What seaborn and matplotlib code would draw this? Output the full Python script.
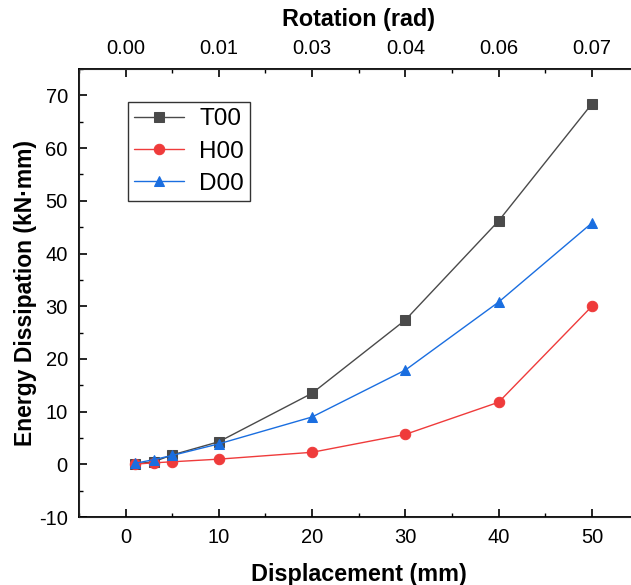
import numpy as np
import pandas as pd
import seaborn as sns
from matplotlib import pyplot as plt
from matplotlib.ticker import MultipleLocator, FixedLocator, FixedFormatter

displacement = [1, 3, 5, 10, 20, 30, 40, 50]
t00 = [0.1, 0.5, 1.8, 4.3, 13.5, 27.4, 46.2, 68.4]
h00 = [0.05, 0.3, 0.5, 1.0, 2.3, 5.7, 11.8, 30.0]
d00 = [0.2, 0.9, 1.7, 3.9, 9.0, 17.9, 30.8, 45.8]

top_ticks = [0, 10, 20, 30, 40, 50]
top_labels = ["0.00", "0.01", "0.03", "0.04", "0.06", "0.07"]

sns.set_style("ticks")
plt.rcParams["font.family"] = ["Liberation Sans", "DejaVu Sans"]
plt.rcParams["xtick.direction"] = "in"
plt.rcParams["ytick.direction"] = "in"
plt.rcParams["axes.unicode_minus"] = False
plt.rcParams["text.color"] = "black"
plt.rcParams["axes.labelcolor"] = "black"

fig = plt.figure(figsize=(6.31, 5.85), dpi=100)
# right edge of the axes runs past the figure, as in the cropped original
ax = fig.add_axes([0.125, 0.116, 0.887, 0.766])

series = [
    ("T00", t00, "#4a4a4a", "s"),
    ("H00", h00, "#ef3b3b", "o"),
    ("D00", d00, "#1a6ee0", "^"),
]
for name, vals, color, marker in series:
    df = pd.DataFrame({"x": displacement, "y": vals})
    sns.lineplot(data=df, x="x", y="y", ax=ax, color=color, marker=marker,
                 markersize=7.5, markeredgecolor=color, linewidth=1.0, label=name)

ax.set_xlim(-5, 55)
ax.set_ylim(-10, 75)
ax.xaxis.set_major_locator(MultipleLocator(10))
ax.xaxis.set_minor_locator(MultipleLocator(5))
ax.yaxis.set_major_locator(MultipleLocator(10))
ax.yaxis.set_minor_locator(MultipleLocator(5))
ax.tick_params(which="major", length=6, width=1.2, labelsize=14.5, color="black",
               labelcolor="black", pad=8)
ax.tick_params(which="minor", length=3, width=1.0, color="black")
for s in ax.spines.values():
    s.set_linewidth(1.3)
    s.set_color("black")

ax.set_xlabel("Displacement (mm)", fontsize=16.8, fontweight="bold", labelpad=11)
ax.set_ylabel("Energy Dissipation (kN·mm)", fontsize=16.5, fontweight="bold", labelpad=1)

ax2 = ax.twiny()
ax2.set_xlim(ax.get_xlim())
ax2.xaxis.set_major_locator(FixedLocator(top_ticks))
ax2.xaxis.set_major_formatter(FixedFormatter(top_labels))
ax2.xaxis.set_minor_locator(MultipleLocator(5))
ax2.tick_params(which="major", length=6, width=1.2, labelsize=14.5, color="black",
                labelcolor="black", pad=8)
ax2.tick_params(which="minor", length=3, width=1.0, color="black")
ax2.set_xlabel("Rotation (rad)", fontsize=16.8, fontweight="bold", labelpad=9)

leg = ax.legend(loc="upper left", bbox_to_anchor=(0.0875, 0.926), borderaxespad=0,
                fontsize=17.5, frameon=True, fancybox=False, edgecolor="black",
                handlelength=2.06, borderpad=0.25, labelspacing=0.42, handletextpad=0.63)
leg.get_frame().set_linewidth(1.0)

fig.savefig("out.png", dpi=100)
